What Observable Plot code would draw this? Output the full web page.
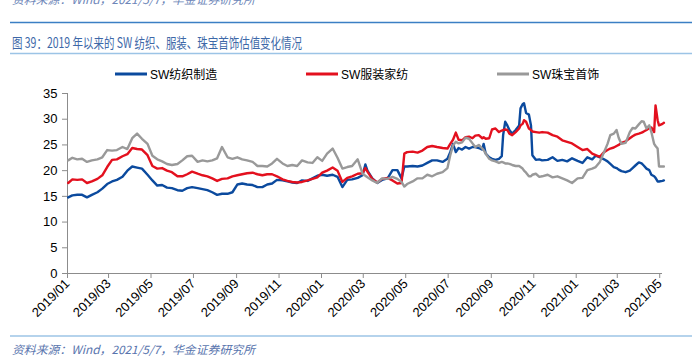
<!DOCTYPE html>
<html><head><meta charset="utf-8">
<script src="https://cdn.jsdelivr.net/npm/d3@7"></script>
<script src="https://cdn.jsdelivr.net/npm/@observablehq/plot@0.6"></script>
<style>
body{margin:0;background:#fff;}
#wrap{position:relative;width:698px;height:356px;overflow:hidden;background:#fff;font-family:"Liberation Sans",Arial,"Noto Sans CJK SC",sans-serif;}
#chart{position:absolute;left:0;top:60px;}
#deco{position:absolute;left:0;top:0;}
</style></head><body><div id="wrap"><svg id="deco" width="698" height="356"></svg><div id="chart"></div></div>
<script>
const dates = [
"2019-01-02","2019-01-08","2019-01-15","2019-01-22","2019-01-29","2019-02-05","2019-02-13","2019-02-20","2019-02-27","2019-03-06","2019-03-13","2019-03-21","2019-03-28","2019-04-04","2019-04-11","2019-04-18","2019-04-26","2019-05-03","2019-05-10","2019-05-17","2019-05-24","2019-05-31","2019-06-08",
"2019-06-15","2019-06-22","2019-06-29","2019-07-07","2019-07-14","2019-07-21","2019-07-28","2019-08-04","2019-08-11","2019-08-19","2019-08-26","2019-09-02","2019-09-09","2019-09-16","2019-09-24","2019-10-01","2019-10-08","2019-10-15","2019-10-22","2019-10-29","2019-11-06","2019-11-13","2019-11-20","2019-11-27",
"2019-12-04","2019-12-12","2019-12-19","2019-12-26","2020-01-02","2020-01-09","2020-01-17","2020-01-24","2020-01-31","2020-02-07","2020-02-14","2020-02-22","2020-02-29","2020-03-04","2020-03-07","2020-03-14","2020-03-21","2020-03-28","2020-04-05","2020-04-12","2020-04-19","2020-04-25","2020-04-29","2020-05-03","2020-05-11","2020-05-18",
"2020-05-25","2020-06-01","2020-06-08","2020-06-15","2020-06-23","2020-06-30","2020-07-04","2020-07-08","2020-07-12","2020-07-16","2020-07-21","2020-07-26","2020-07-31","2020-08-05","2020-08-09","2020-08-14","2020-08-19","2020-08-21","2020-08-24","2020-08-29","2020-09-02","2020-09-07","2020-09-12","2020-09-16","2020-09-18","2020-09-21","2020-09-24","2020-09-27","2020-10-01","2020-10-06","2020-10-11","2020-10-13","2020-10-16","2020-10-18","2020-10-21","2020-10-25","2020-10-28","2020-10-30","2020-11-04","2020-11-09",
"2020-11-13","2020-11-21","2020-11-28","2020-12-05","2020-12-12","2020-12-19","2020-12-26","2021-01-03","2021-01-10","2021-01-17","2021-01-24","2021-01-29","2021-02-04","2021-02-10","2021-02-15","2021-02-19","2021-02-24","2021-02-28","2021-03-03","2021-03-07","2021-03-13","2021-03-19","2021-03-23","2021-03-27","2021-04-01","2021-04-05","2021-04-08","2021-04-12","2021-04-16","2021-04-19","2021-04-23","2021-04-25","2021-04-28","2021-04-30","2021-05-05","2021-05-07"
];
const textile = [
14.8,15.2,15.3,15.3,14.8,15.3,15.8,16.5,17.4,17.9,18.2,18.8,20.0,20.8,20.6,20.4,19.2,18.1,17.1,17.2,16.7,16.6,16.2,
16.1,16.6,16.8,16.6,16.4,16.2,15.8,15.3,15.5,15.5,15.8,17.3,17.5,17.3,17.2,16.8,16.8,17.3,17.5,18.2,18.1,17.9,17.7,17.6,
18.1,18.0,18.5,19.0,19.2,19.0,19.2,18.8,16.8,18.2,18.3,18.6,19.1,21.2,20.0,18.5,17.6,18.2,18.5,20.1,20.1,18.5,20.8,20.8,20.9,20.8,
21.0,21.5,22.0,22.0,21.7,22.3,23.6,25.2,23.6,24.4,24.1,24.6,24.3,24.6,24.6,24.4,24.1,25.2,23.3,22.6,22.3,22.1,22.3,22.8,26.9,29.5,28.8,27.9,27.2,27.9,28.8,32.1,32.9,33.1,31.2,30.9,28.8,23.0,22.1,22.2,
22.0,22.1,22.6,21.9,22.1,21.8,22.4,21.9,21.5,22.6,22.2,22.9,22.6,22.2,21.8,21.3,20.7,20.5,20.2,19.9,19.7,20.0,20.5,21.0,21.6,21.4,21.0,20.4,20.1,19.2,18.9,18.6,17.9,17.9,18.0,18.1
];
const apparel = [
17.6,18.3,18.2,18.3,17.6,17.9,18.4,19.1,20.7,22.1,22.2,22.8,23.2,24.4,24.2,24.1,23.0,20.9,20.4,20.5,20.0,19.7,18.9,
18.9,19.3,19.8,19.4,19.1,18.9,18.5,18.0,18.4,18.5,18.9,19.1,19.3,19.5,19.6,19.3,19.1,19.3,19.3,18.9,18.3,18.0,17.8,17.7,
17.8,18.1,18.4,18.7,19.6,20.0,20.6,20.0,17.8,18.6,18.9,19.4,19.5,20.5,19.8,18.4,17.7,18.4,18.6,18.1,17.5,17.6,23.3,23.6,23.7,23.5,
23.9,24.6,24.8,24.6,24.4,24.3,25.2,26.0,27.4,26.0,25.9,26.5,26.6,26.3,26.8,26.9,26.3,26.5,26.2,26.3,28.0,28.2,27.5,27.8,27.9,28.0,27.9,27.2,26.9,27.5,28.2,28.8,29.1,29.8,29.5,28.2,27.9,27.6,27.5,27.4,
27.5,27.4,26.9,26.6,25.9,25.6,25.3,24.6,24.0,24.2,23.3,23.0,22.7,23.6,24.0,24.3,24.5,24.8,25.0,25.4,25.7,26.3,26.7,27.0,27.2,27.4,27.6,27.9,28.3,28.4,27.5,32.7,29.8,28.8,29.1,29.3
];
const jewelry = [
22.0,22.5,22.2,22.3,21.7,22.0,22.2,22.6,24.0,23.9,24.0,24.6,24.2,26.3,27.2,26.2,25.2,22.9,22.2,21.8,21.3,21.1,21.3,
22.0,22.8,22.9,21.7,22.0,21.8,22.0,22.4,24.6,22.6,22.3,22.6,22.2,22.0,21.7,20.9,20.9,20.8,21.4,22.3,21.4,20.9,21.1,20.9,
22.0,21.6,21.5,22.6,21.9,23.3,24.3,22.5,20.4,20.7,20.9,22.2,19.4,19.0,18.7,18.1,17.6,18.5,18.4,18.8,18.4,17.8,16.9,17.4,17.9,18.5,
18.5,19.2,18.9,19.4,19.7,20.5,23.0,24.9,25.6,25.3,25.5,26.4,26.2,25.3,24.6,25.0,24.3,24.0,23.3,22.3,22.0,21.8,21.5,21.7,21.6,21.4,21.4,21.3,21.1,20.9,20.9,20.7,20.4,20.0,19.6,18.9,18.9,19.2,19.4,18.8,
18.9,19.2,18.7,18.9,18.5,18.1,17.6,18.5,18.6,20.1,20.4,20.7,21.7,23.6,25.2,26.9,27.2,27.9,26.4,25.2,25.4,27.5,28.3,28.2,29.0,29.6,29.5,28.2,28.8,27.5,25.2,24.8,24.3,20.8,20.8,20.8
];
const seriesNames = ["SW纺织制造","SW服装家纺","SW珠宝首饰"];
const seriesColors = ["#0b4a9e","#e3101e","#999999"];
const yTicks = [0,5,10,15,20,25,30,35];
const xTickLabels = ["2019/01","2019/03","2019/05","2019/07","2019/09","2019/11","2020/01","2020/03","2020/05","2020/07","2020/09","2020/11","2021/01","2021/03","2021/05"];
const titleText = "图 39：2019 年以来的 SW 纺织、服装、珠宝首饰估值变化情况";
const sourceText = "资料来源：Wind，2021/5/7，华金证券研究所";

const seriesValues = [textile, apparel, jewelry];
const data = [];
seriesValues.forEach((vals, s) => {
  vals.forEach((v, i) => data.push({date: new Date(dates[i] + "T00:00:00Z"), value: v, series: seriesNames[s]}));
});
const xTicks = xTickLabels.map(l => new Date(l.replace("/", "-") + "-01T00:00:00Z"));
const x0 = new Date("2019-01-01T00:00:00Z");
const x1 = new Date("2021-05-05T00:00:00Z");
const fmt = d3.utcFormat("%Y/%m");

const plot = Plot.plot({
  width: 698, height: 270,
  marginLeft: 67, marginRight: 36, marginTop: 33, marginBottom: 57,
  style: {fontFamily: '"Liberation Sans", Arial, "Noto Sans CJK SC", sans-serif', fontSize: "13px", background: "transparent", color: "#000"},
  x: {type: "utc", domain: [x0, x1]},
  y: {domain: [0, 35]},
  color: {domain: seriesNames, range: seriesColors},
  marks: [
    Plot.axisY({ticks: yTicks, tickSize: 5, tickPadding: 5, label: null, stroke: "#8c8c8c", fill: "#000", fontSize: 13}),
    Plot.axisX({ticks: xTicks, tickFormat: fmt, tickRotate: -45, tickSize: 5, tickPadding: 3, label: null, stroke: "#8c8c8c", fill: "#000", fontSize: 13}),
    Plot.ruleX([x0], {stroke: "#8c8c8c"}),
    Plot.ruleY([0], {stroke: "#8c8c8c"}),
    Plot.line(data, {x: "date", y: "value", z: "series", stroke: "series", strokeWidth: 2.4, strokeLinejoin: "round"})
  ]
});
document.getElementById("chart").appendChild(plot);

// decoration: header, footer, legend
const deco = d3.select("#deco");
deco.append("text").attr("x", 12).attr("y", 4).attr("font-size", 11.5).attr("font-style", "italic")
  .attr("font-family", '"Noto Sans CJK SC", sans-serif').attr("fill", "#6d86b8")
  .attr("textLength", 243).attr("lengthAdjust", "spacingAndGlyphs").text(sourceText);
deco.append("line").attr("x1", 10).attr("x2", 692).attr("y1", 22.5).attr("y2", 22.5).attr("stroke", "#3b7fc4").attr("stroke-width", 1.5);
deco.append("text").attr("x", 12).attr("y", 47.5).attr("font-size", 14)
  .attr("font-family", '"Noto Sans CJK SC", sans-serif').attr("fill", "#3d68a8")
  .attr("textLength", 290).attr("lengthAdjust", "spacingAndGlyphs").text(titleText);
deco.append("line").attr("x1", 10).attr("x2", 692).attr("y1", 53.5).attr("y2", 53.5).attr("stroke", "#9cc4e6").attr("stroke-width", 1.5);
deco.append("line").attr("x1", 10).attr("x2", 692).attr("y1", 336).attr("y2", 336).attr("stroke", "#9cc4e6").attr("stroke-width", 1.5);
deco.append("text").attr("x", 12).attr("y", 353.5).attr("font-size", 11.5).attr("font-style", "italic")
  .attr("font-family", '"Noto Sans CJK SC", sans-serif').attr("fill", "#5874ad")
  .attr("textLength", 243).attr("lengthAdjust", "spacingAndGlyphs").text(sourceText);

const legendPos = [{x: 115, tx: 150}, {x: 306, tx: 341}, {x: 497, tx: 532}];
seriesNames.forEach((n, i) => {
  const p = legendPos[i];
  deco.append("line").attr("x1", p.x).attr("x2", p.x + 32).attr("y1", 74).attr("y2", 74)
    .attr("stroke", seriesColors[i]).attr("stroke-width", 3);
  deco.append("text").attr("x", p.tx).attr("y", 78.5).attr("font-size", 12)
    .attr("font-family", '"Liberation Sans", Arial, "Noto Sans CJK SC", sans-serif').attr("fill", "#000").text(n);
});
</script>
</body></html>
